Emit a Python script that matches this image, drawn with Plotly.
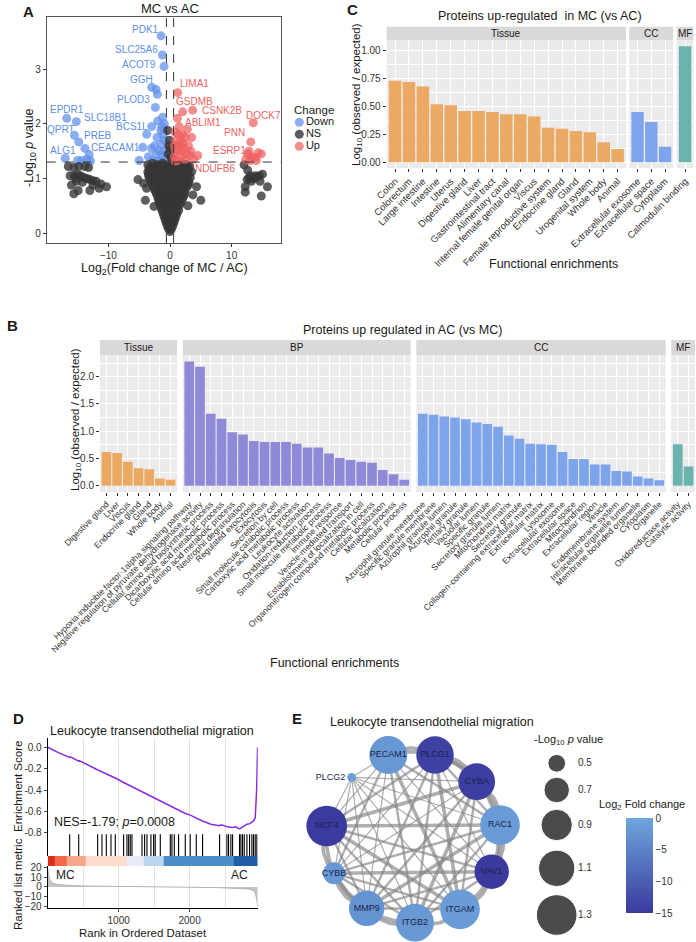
import plotly.graph_objects as go

W, H = 696, 942
FONT = "Liberation Sans, Arial, sans-serif"
INK = "#1a1a1a"

# ---------------- A: volcano, MC vs AC ----------------
# (log2 fold change, -log10 p)
down_pts = [
    (-1.46, 3.61), (-1.24, 3.26), (-0.97, 3.05), (-2.97, 2.67), (-2.27, 2.63),
    (-2.05, 2.54), (-2.38, 2.30), (-1.20, 2.12), (-2.00, 2.05), (-0.90, 2.00),
    (-1.30, 1.95), (-2.97, 1.95), (-1.50, 1.88), (-3.78, 1.81), (-1.10, 1.80),
    (-2.10, 1.75), (-0.90, 1.70), (-1.40, 1.62), (-2.50, 1.60), (-4.43, 1.57),
    (-3.00, 1.55), (-1.70, 1.50), (-1.00, 1.50), (-2.20, 1.45), (-3.50, 1.40),
    (-1.30, 1.38), (-0.80, 1.35), (-2.80, 1.33), (-5.00, 1.33), (-1.80, 1.32),
    (-16.75, 2.10), (-15.20, 2.04), (-15.50, 1.79), (-14.80, 1.67), (-13.80, 1.55),
    (-13.10, 1.44), (-17.00, 1.37), (-15.00, 1.33), (-14.30, 1.33), (-13.50, 1.35),
    (-12.90, 1.32),
]
up_pts = [
    (1.24, 2.57), (2.05, 2.22), (3.67, 2.25), (1.20, 2.10), (1.50, 1.95),
    (0.80, 1.85), (2.00, 1.80), (2.50, 1.75), (1.00, 1.70), (1.70, 1.68),
    (3.00, 1.60), (2.20, 1.55), (1.30, 1.52), (0.90, 1.50), (3.40, 1.50),
    (4.50, 1.42), (2.70, 1.45), (1.80, 1.40), (0.70, 1.40), (2.40, 1.35),
    (1.20, 1.33), (3.80, 1.35), (0.80, 1.32), (1.60, 1.60), (2.80, 1.90),
    (3.50, 1.75), (1.10, 1.60), (2.10, 1.65), (1.40, 1.80), (0.70, 1.60),
    (1.90, 1.50), (3.20, 1.42),
    (13.5, 2.02), (13.1, 1.67), (12.6, 1.45), (13.2, 1.40), (13.8, 1.38),
    (14.3, 1.47), (14.8, 1.45), (12.3, 1.35), (13.0, 1.33), (14.0, 1.33), (12.8, 1.50),
]
ns_pts = [
    (0.0, 0.03), (-0.2, 0.07), (0.2, 0.07),
    (-0.4, 0.12), (0.0, 0.12), (0.4, 0.12),
    (-0.55, 0.17), (-0.2, 0.17), (0.2, 0.17), (0.55, 0.17),
    (-0.7, 0.22), (-0.2, 0.22), (0.2, 0.22), (0.7, 0.22),
    (-0.85, 0.27), (-0.45, 0.27), (0.0, 0.27), (0.45, 0.27), (0.85, 0.27),
    (-1.0, 0.32), (-0.5, 0.32), (0.0, 0.32), (0.5, 0.32), (1.0, 0.32),
    (-1.15, 0.37), (-0.6, 0.37), (0.0, 0.37), (0.6, 0.37), (1.15, 0.37),
    (-1.3, 0.42), (-0.7, 0.42), (-0.1, 0.42), (0.4, 0.42), (0.9, 0.42), (1.4, 0.42),
    (-1.45, 0.47), (-0.8, 0.47), (-0.2, 0.47), (0.6, 0.47), (1.2, 0.47),
    (-1.6, 0.52), (-0.9, 0.52), (-0.3, 0.52), (0.3, 0.52), (0.9, 0.52), (1.6, 0.52),
    (-1.75, 0.57), (-1.1, 0.57), (-0.4, 0.57), (0.4, 0.57), (1.0, 0.57), (1.8, 0.57),
    (-1.9, 0.62), (-1.2, 0.62), (-0.5, 0.62), (0.1, 0.62), (0.7, 0.62), (1.3, 0.62), (2.0, 0.62),
    (-2.0, 0.67), (-1.3, 0.67), (-0.6, 0.67), (0.0, 0.67), (0.9, 0.67), (1.7, 0.67), (2.2, 0.67),
    (-2.2, 0.72), (-1.5, 0.72), (-0.8, 0.72), (-0.1, 0.72), (0.6, 0.72), (1.3, 0.72), (2.0, 0.72), (2.4, 0.72),
    (-2.4, 0.77), (-1.6, 0.77), (-0.6, 0.77), (0.2, 0.77), (0.9, 0.77), (1.6, 0.77), (2.3, 0.77),
    (-2.6, 0.82), (-1.8, 0.82), (-1.0, 0.82), (-0.3, 0.82), (0.4, 0.82), (1.1, 0.82), (1.8, 0.82), (2.6, 0.82),
    (-2.8, 0.87), (-2.0, 0.87), (-1.2, 0.87), (-0.4, 0.87), (0.5, 0.87), (1.4, 0.87), (2.2, 0.87), (2.9, 0.87),
    (-3.0, 0.92), (-2.2, 0.92), (-1.4, 0.92), (-0.6, 0.92), (0.2, 0.92), (1.0, 0.92), (1.8, 0.92), (2.6, 0.92), (3.1, 0.92),
    (-3.2, 0.97), (-2.3, 0.97), (-1.3, 0.97), (-0.3, 0.97), (0.5, 0.97), (1.3, 0.97), (2.2, 0.97), (3.0, 0.97),
    (-3.4, 1.02), (-2.6, 1.02), (-1.7, 1.02), (-0.8, 1.02), (0.0, 1.02), (0.8, 1.02), (1.7, 1.02), (2.6, 1.02), (3.3, 1.02),
    (-3.5, 1.07), (-2.2, 1.07), (-1.2, 1.07), (-0.4, 1.07), (0.4, 1.07), (1.3, 1.07), (2.2, 1.07), (3.0, 1.07),
    (-3.6, 1.12), (-2.7, 1.12), (-1.8, 1.12), (-0.9, 1.12), (0.0, 1.12), (0.9, 1.12), (1.8, 1.12), (2.7, 1.12), (3.5, 1.12),
    (-3.4, 1.17), (-2.2, 1.17), (-1.2, 1.17), (-0.4, 1.17), (0.4, 1.17), (1.2, 1.17), (2.1, 1.17), (3.0, 1.17),
    (-3.2, 1.22), (-2.4, 1.22), (-1.6, 1.22), (-0.8, 1.22), (0.0, 1.22), (0.8, 1.22), (1.6, 1.22), (2.4, 1.22), (3.2, 1.22),
    (-3.6, 1.25), (-2.0, 1.25), (-0.4, 1.25), (1.2, 1.25), (2.8, 1.25),
    (-2.8, 1.28), (-1.2, 1.28), (0.4, 1.28), (2.0, 1.28),
    (-0.30, 1.45), (0.20, 1.55), (-0.10, 1.70), (-0.35, 1.88), (0.30, 1.36), (-0.20, 1.60), (0.10, 1.40),
    (-4.3, 0.91), (-3.8, 0.82), (-2.6, 0.49), (-4.0, 0.60), (5.0, 0.60), (3.7, 0.70), (2.9, 0.50),
    (4.3, 0.85), (-5.2, 0.98),
    (-16.5, 1.22), (-15.6, 1.20), (-14.8, 1.22), (-13.8, 1.22), (-13.2, 1.20), (-16.2, 1.05),
    (-15.5, 1.05), (-15.0, 1.07), (-14.5, 1.05), (-14.0, 1.02), (-13.5, 1.00), (-13.0, 0.98),
    (-12.5, 0.96), (-12.0, 0.95), (-11.2, 0.90), (-10.3, 0.85), (-16.0, 0.88), (-15.2, 0.95),
    (-14.2, 0.93), (-13.0, 0.78), (-15.6, 0.72), (-14.9, 0.78), (-11.5, 0.82), (-12.5, 0.88), (-15.3, 1.00),
    (12.0, 1.25), (12.6, 1.15), (13.0, 1.05), (13.5, 1.00), (14.0, 1.02), (14.5, 1.05), (15.0, 1.08),
    (13.2, 0.95), (12.5, 0.98), (12.2, 0.85), (14.6, 0.95), (15.8, 0.85), (12.2, 0.75), (14.8, 0.68),
    (13.8, 1.05), (12.8, 1.00),
]
# gene, label x, label y, group
gene_labels = [
    ("PDK1", -4.05, 3.73, "Down"), ("SLC25A6", -5.4, 3.36, "Down"), ("ACOT9", -5.0, 3.09, "Down"),
    ("GGH", -4.6, 2.82, "Down"), ("PLOD3", -5.95, 2.45, "Down"), ("EPDR1", -16.75, 2.27, "Down"),
    ("SLC18B1", -10.5, 2.12, "Down"), ("QPRT", -17.7, 1.90, "Down"), ("BCS1L", -6.2, 1.95, "Down"),
    ("PREB", -11.7, 1.78, "Down"), ("ALG1", -17.3, 1.52, "Down"), ("CEACAM1", -8.9, 1.57, "Down"),
    ("LIMA1", 4.05, 2.73, "Up"), ("GSDMB", 3.94, 2.40, "Up"), ("CSNK2B", 8.4, 2.24, "Up"),
    ("ABLIM1", 5.4, 2.03, "Up"), ("DOCK7", 15.1, 2.16, "Up"), ("PNN", 10.5, 1.84, "Up"),
    ("ESRP1", 9.7, 1.52, "Up"), ("NDUFB6", 7.3, 1.19, "Up"),
]
groups = ["Down", "NS", "Up"]
fc_cut = 0.585   # log2(1.5)
p_cut = 1.301    # -log10(0.05)

# ---------------- C: up in MC ----------------
c_tissue_terms = ["Colon", "Colorectum", "Large intestine", "Intestine", "Uterus", "Digestive gland",
                  "Liver", "Gastrointestinal tract", "Alimentary canal", "Internal female genital organ",
                  "Viscus", "Female reproductive system", "Endocrine gland", "Gland", "Urogenital system",
                  "Whole body", "Animal"]
c_tissue_vals = [0.73, 0.72, 0.68, 0.52, 0.51, 0.46, 0.46, 0.45, 0.43, 0.43, 0.41, 0.31, 0.30, 0.28,
                 0.27, 0.18, 0.12]
c_cc_terms = ["Extracellular exosome", "Extracellular space", "Cytoplasm"]
c_cc_vals = [0.45, 0.36, 0.14]
c_mf_terms = ["Calmodulin binding"]
c_mf_vals = [1.04]

# ---------------- B: up in AC ----------------
b_tissue_terms = ["Digestive gland", "Liver", "Viscus", "Endocrine gland", "Gland", "Whole body", "Animal"]
b_tissue_vals = [0.62, 0.60, 0.44, 0.32, 0.30, 0.13, 0.11]
b_bp_terms = ["Hypoxia-inducible factor-1alpha signaling pathway",
              "Negative regulation of pyruvate dehydrogenase activity",
              "Cellular amino acid biosynthetic process", "Dicarboxylic acid metabolic process",
              "Cellular amino acid metabolic process", "Neutrophil degranulation", "Regulated exocytosis",
              "Exocytosis", "Secretion by cell", "Small molecule catabolic process",
              "Carboxylic acid metabolic process", "Leukocyte activation", "Oxidation-reduction process",
              "Small molecule metabolic process", "Immune response", "Vesicle-mediated transport",
              "Establishment of localization in cell", "Organonitrogen compound metabolic process",
              "Cellular localization", "Metabolic process", "Cellular process"]
b_bp_vals = [2.28, 2.18, 1.32, 1.23, 0.98, 0.94, 0.82, 0.80, 0.80, 0.80, 0.77, 0.70, 0.70, 0.59,
             0.51, 0.47, 0.44, 0.42, 0.29, 0.21, 0.11]
b_cc_terms = ["Azurophil granule membrane", "Specific granule membrane", "Azurophil granule lumen",
              "Azurophil granule", "Tertiary granule", "Vacuolar lumen", "Specific granule",
              "Secretory granule lumen", "Mitochondrial matrix", "Secretory granule",
              "Collagen-containing extracellular matrix", "Extracellular matrix", "Lysosome",
              "Extracellular exosome", "Extracellular space", "Mitochondrion", "Extracellular region",
              "Vesicle", "Endomembrane system", "Intracellular organelle lumen",
              "Membrane-bounded organelle", "Cytoplasm", "Organelle"]
b_cc_vals = [1.32, 1.30, 1.27, 1.25, 1.22, 1.16, 1.13, 1.08, 0.92, 0.86, 0.77, 0.76, 0.75, 0.62,
             0.49, 0.49, 0.39, 0.39, 0.27, 0.26, 0.17, 0.13, 0.10]
b_mf_terms = ["Oxidoreductase activity", "Catalytic activity"]
b_mf_vals = [0.76, 0.35]

# ---------------- D: GSEA ----------------
n_genes = 2960
es_rank = [1, 150, 310, 320, 437, 445, 700, 770, 830, 900, 960, 1070, 1190, 1330, 1400, 1520, 1590,
           1730, 1850, 1940, 2010, 2100, 2180, 2300, 2420, 2450, 2530, 2610, 2650, 2705, 2730, 2770,
           2810, 2850, 2880, 2900, 2925, 2935, 2945, 2950, 2958]
es_score = [0.0, -0.05, -0.095, -0.09, -0.13, -0.125, -0.21, -0.23, -0.25, -0.27, -0.29, -0.33, -0.37,
            -0.42, -0.44, -0.48, -0.50, -0.55, -0.59, -0.62, -0.635, -0.665, -0.69, -0.72, -0.735,
            -0.725, -0.745, -0.75, -0.745, -0.765, -0.755, -0.735, -0.72, -0.715, -0.70, -0.69, -0.66,
            -0.55, -0.40, -0.25, 0.0]
hit_rank = [310, 437, 704, 765, 826, 892, 953, 1070, 1117, 1141, 1164, 1188, 1329, 1366, 1399, 1455,
            1493, 1516, 1587, 1728, 1751, 1784, 1845, 1939, 2009, 2094, 2183, 2423, 2526, 2549, 2582,
            2606, 2704, 2723, 2746, 2770, 2808, 2845, 2878, 2901, 2925, 2948]
metric_rank = [1, 8, 20, 40, 70, 120, 200, 300, 500, 800, 1200, 1600, 2000, 2400, 2700, 2820, 2880,
               2910, 2930, 2945, 2955, 2960]
metric_val = [19, 14, 9, 6, 4, 2.8, 2.0, 1.5, 1.0, 0.6, 0.3, 0.0, -0.3, -0.7, -1.2, -2.0, -3.0, -4.5,
              -7, -11, -16, -20]
band_edges = [0, 100, 270, 530, 1120, 1350, 1640, 2620, 2960]
band_level = [0, 1, 2, 3, 4, 5, 6, 7]
band_colors = ["#D6301F", "#F2694A", "#F4A88A", "#FCDCCB", "#E9ECF7", "#BCD5EE", "#4A8FC8", "#1F5EA6"]

# ---------------- E: network ----------------
node_names = ["PECAM1", "PLCG1", "CYBA", "RAC1", "VAV1", "ITGAM", "ITGB2", "MMP9", "CYBB", "NCF4", "PLCG2"]
node_x = [-24.7, 22.0, 63.7, 87.0, 78.7, 47.0, 2.0, -46.3, -79.0, -86.3, -61.3]
node_y = [85.0, 85.0, 58.3, 15.0, -31.7, -69.3, -82.7, -68.3, -33.3, 14.0, 62.7]
node_logp = [1.17, 1.15, 1.12, 1.25, 1.02, 1.25, 1.17, 1.06, 0.60, 1.30, 0.36]
node_fc = [-2.0, -14.0, -14.5, -1.5, -15.0, -1.2, -1.8, -2.5, -2.0, -14.8, -1.0]
straight_edges = [(0, 3, 2), (0, 4, 1), (0, 5, 3), (0, 6, 2), (0, 7, 1), (0, 8, 2), (0, 9, 1),
                  (1, 3, 2), (1, 4, 1), (1, 5, 3), (1, 6, 2), (1, 7, 2), (1, 8, 1), (1, 9, 2),
                  (2, 5, 2), (2, 6, 3), (2, 7, 2), (2, 8, 1), (2, 9, 3), (2, 10, 1),
                  (3, 6, 2), (3, 7, 3), (3, 8, 2), (3, 9, 3), (3, 10, 1),
                  (4, 6, 2), (4, 7, 2), (4, 8, 3), (4, 9, 2), (4, 10, 1),
                  (5, 7, 2), (5, 8, 2), (5, 9, 3), (5, 10, 1),
                  (6, 8, 2), (6, 9, 2), (6, 10, 1), (7, 9, 2), (7, 10, 1), (8, 10, 1),
                  (0, 10, 1), (9, 10, 1)]
curved_edges = [(0, 1), (1, 2), (2, 3), (3, 4), (4, 5), (5, 6), (6, 7), (7, 8), (8, 9),
                (0, 2), (3, 5), (2, 4), (6, 8), (9, 7), (1, 3)]
size_legend_vals = [0.5, 0.7, 0.9, 1.1, 1.3]


def xdom(x0, x1):
    return [x0 / W, x1 / W]


def ydom(y0, y1):
    return [1 - y1 / H, 1 - y0 / H]


fig = go.Figure()
layout = {}
shapes, annots = [], []


def text(x, y, s, size=11, angle=0, color=INK, xanchor="center"):
    annots.append(dict(x=x / W, y=1 - y / H, xref="paper", yref="paper", text=s, showarrow=False,
                       textangle=angle, xanchor=xanchor, yanchor="middle",
                       font=dict(size=size, family=FONT, color=color)))


# ---- panel A ----
cols = {"Down": "#5E8FEA", "NS": "#363636", "Up": "#EF5F5F"}
alpha = {"Down": 0.72, "NS": 0.8, "Up": 0.72}
for name, pts in [("Down", down_pts), ("NS", ns_pts), ("Up", up_pts)]:
    fig.add_trace(go.Scatter(x=[p[0] for p in pts], y=[p[1] for p in pts], mode="markers", name=name,
                             marker=dict(size=9, color=cols[name], opacity=alpha[name], line=dict(width=0)),
                             xaxis="x", yaxis="y", showlegend=False))
axA = dict(ticks="outside", ticklen=3, tickcolor="#333", showline=True, mirror=True, linecolor="#555",
           linewidth=1, showgrid=False, zeroline=False, tickfont=dict(size=10, color="#333"),
           automargin=False)
layout["xaxis"] = dict(domain=xdom(46.7, 281), anchor="y", range=[-20, 18], tickvals=[-10, 0, 10], **axA)
layout["yaxis"] = dict(domain=ydom(16.7, 243), anchor="x", range=[-0.18, 3.96], tickvals=[0, 1, 2, 3], **axA)
for v in (-fc_cut, fc_cut):
    shapes.append(dict(type="line", xref="x", yref="y domain", x0=v, x1=v, y0=0, y1=1,
                       line=dict(color="#333", width=1, dash="dash")))
shapes.append(dict(type="line", xref="x domain", yref="y", x0=0, x1=1, y0=p_cut, y1=p_cut,
                   line=dict(color="#333", width=1, dash="dash")))
for g, lx, ly, grp in gene_labels:
    annots.append(dict(x=lx, y=ly, xref="x", yref="y", text=g, showarrow=False,
                       xanchor="center", yanchor="middle",
                       font=dict(size=10, family=FONT, color=cols[grp])))
text(28, 12, "<b>A</b>", 15)
text(170, 9, "MC vs AC", 13)
text(164, 269, "Log<sub>2</sub>(Fold change of MC / AC)", 12.5)
text(30, 148, "-Log<sub>10</sub> <i>p</i> value", 12.5, angle=-90)

# legend of A, drawn in a small pixel-scaled axis
fig.add_trace(go.Scatter(x=[0, 0, 0], y=[0, 1, 2], mode="markers+text", text=groups,
                         textposition="middle right", textfont=dict(size=11, family=FONT, color=INK),
                         marker=dict(size=9, color=[cols[g] for g in groups],
                                     opacity=[alpha[g] for g in groups]),
                         xaxis="x13", yaxis="y13", showlegend=False))
layout["xaxis13"] = dict(domain=xdom(290, 350), anchor="y13", range=[-9.3, 50.7], visible=False,
                         automargin=False)
layout["yaxis13"] = dict(domain=ydom(115, 154), anchor="x13", range=[2.65, -0.6], visible=False,
                         automargin=False)
text(292, 110, "Change", 11.5, xanchor="left")


# ---- facet helper for B and C ----
def facet(n, x0, x1, y0, y1, strip_top, terms, vals, color, yr, yticks, yfmt, yminor, first, tsize, label):
    xa, ya = f"x{n}", f"y{n}"
    fig.add_trace(go.Bar(x=terms, y=vals, width=0.9, marker=dict(color=color, line=dict(width=0)),
                         xaxis=xa, yaxis=ya, showlegend=False))
    layout[f"xaxis{n}"] = dict(domain=xdom(x0, x1), anchor=ya, type="category", categoryorder="array",
                               categoryarray=terms, range=[-0.6, len(terms) - 0.4], tickangle=-45,
                               tickfont=dict(size=tsize, color="#333"), ticks="outside", ticklen=3,
                               tickcolor="#333", showgrid=True, gridcolor="white", gridwidth=1.1,
                               showline=False, zeroline=False, automargin=False)
    layout[f"yaxis{n}"] = dict(domain=ydom(y0, y1), anchor=xa, range=yr, tickvals=yticks,
                               ticktext=[yfmt.format(v) for v in yticks], showticklabels=first,
                               ticks="outside" if first else "", ticklen=3, tickcolor="#333",
                               tickfont=dict(size=10, color="#333"), showgrid=True, gridcolor="white",
                               gridwidth=1.1, zeroline=False, automargin=False,
                               minor=dict(tickvals=yminor, showgrid=True, gridcolor="white", gridwidth=0.5))
    shapes.append(dict(type="rect", xref=f"{xa} domain", yref=f"{ya} domain", x0=0, x1=1, y0=0, y1=1,
                       fillcolor="#EBEBEB", line=dict(width=0), layer="below"))
    sh = (y0 - strip_top) / (y1 - y0)
    shapes.append(dict(type="rect", xref=f"{xa} domain", yref=f"{ya} domain", x0=0, x1=1, y0=1,
                       y1=1 + sh, fillcolor="#D9D9D9", line=dict(width=0), layer="below"))
    annots.append(dict(xref=f"{xa} domain", yref=f"{ya} domain", x=0.5, y=1 + sh / 2, text=label,
                       showarrow=False, xanchor="center", yanchor="middle",
                       font=dict(size=10, family=FONT, color=INK)))


ORANGE, PURPLE, BLUE, TEAL = "#EBA963", "#8F8AD8", "#7EA5EC", "#6BB4AD"

# ---- panel C ----
c_yr = [-0.052, 1.092]
c_t = [0, 0.25, 0.5, 0.75, 1.0]
c_m = [0.125, 0.375, 0.625, 0.875]
facet(2, 386.7, 626, 40.4, 168.1, 26.7, c_tissue_terms, c_tissue_vals, ORANGE, c_yr, c_t, "{:.2f}", c_m, True, 9.5, "Tissue")
facet(3, 629.3, 673.3, 40.4, 168.1, 26.7, c_cc_terms, c_cc_vals, BLUE, c_yr, c_t, "{:.2f}", c_m, False, 9.5, "CC")
facet(4, 676.7, 693.4, 40.4, 168.1, 26.7, c_mf_terms, c_mf_vals, TEAL, c_yr, c_t, "{:.2f}", c_m, False, 9.5, "MF")
text(352, 10, "<b>C</b>", 15)
text(540, 16, "Proteins up-regulated  in MC (vs AC)", 12.5)
text(553, 264, "Functional enrichments", 12.5)
text(357, 95, "Log<sub>10</sub> (observed / expected)", 11.5, angle=-90)

# ---- panel B ----
b_yr = [-0.114, 2.394]
b_t = [0, 0.5, 1.0, 1.5, 2.0]
b_m = [0.25, 0.75, 1.25, 1.75, 2.25]
facet(5, 100, 177, 355.2, 491.9, 340, b_tissue_terms, b_tissue_vals, ORANGE, b_yr, b_t, "{:.1f}", b_m, True, 8.6, "Tissue")
facet(6, 182.8, 410.7, 355.2, 491.9, 340, b_bp_terms, b_bp_vals, PURPLE, b_yr, b_t, "{:.1f}", b_m, False, 8.6, "BP")
facet(7, 416.3, 665.7, 355.2, 491.9, 340, b_cc_terms, b_cc_vals, BLUE, b_yr, b_t, "{:.1f}", b_m, False, 8.6, "CC")
facet(8, 671.3, 695, 355.2, 491.9, 340, b_mf_terms, b_mf_vals, TEAL, b_yr, b_t, "{:.1f}", b_m, False, 8.6, "MF")
text(12, 326, "<b>B</b>", 15)
text(402, 330, "Proteins up regulated in AC (vs MC)", 12.5)
text(334, 663, "Functional enrichments", 12.5)
text(76, 420, "Log<sub>10</sub> (observed / expected)", 11.5, angle=-90)

# ---- panel D ----
fig.add_trace(go.Scatter(x=es_rank, y=es_score, mode="lines", line=dict(color="#8A2BE2", width=1.5),
                         xaxis="x9", yaxis="y9", showlegend=False))
hx, hy = [], []
for r in hit_rank:
    hx += [r, r, None]
    hy += [-0.815, -1.018, None]
fig.add_trace(go.Scatter(x=hx, y=hy, mode="lines", line=dict(color="black", width=1.1),
                         xaxis="x9", yaxis="y9", showlegend=False))
scale = []
for i, c in enumerate(band_colors):
    scale += [[i / len(band_colors), c], [(i + 1) / len(band_colors), c]]
fig.add_trace(go.Heatmap(z=[band_level], x=band_edges, y=[0, 1], colorscale=scale, zmin=-0.5,
                         zmax=len(band_colors) - 0.5, showscale=False, xaxis="x10", yaxis="y10"))
fig.add_trace(go.Scatter(x=metric_rank, y=metric_val, mode="lines", fill="tozeroy",
                         line=dict(color="#B5B5B5", width=1), fillcolor="#C4C4C4",
                         xaxis="x11", yaxis="y11", showlegend=False))
dx = xdom(47.7, 257.7)
layout["xaxis9"] = dict(domain=dx, anchor="y9", range=[0, n_genes], tickvals=[500, 1000, 1500, 2000, 2500],
                        showticklabels=False, ticks="", showgrid=True, gridcolor="#E3E3E3",
                        zeroline=False, showline=False, automargin=False)
layout["yaxis9"] = dict(domain=ydom(738, 856), anchor="x9", range=[-1.018, 0.087],
                        tickvals=[0, -0.2, -0.4, -0.6, -0.8], ticktext=["0.0", "-0.2", "-0.4", "-0.6", "-0.8"],
                        showline=True, linecolor="black", linewidth=1, ticks="outside", ticklen=3,
                        tickfont=dict(size=10, color="#333"), showgrid=False, zeroline=False,
                        automargin=False)
layout["xaxis10"] = dict(domain=dx, anchor="y10", range=[0, n_genes], visible=False, automargin=False)
layout["yaxis10"] = dict(domain=ydom(856, 866), anchor="x10", range=[0, 1], visible=False, automargin=False)
layout["xaxis11"] = dict(domain=dx, anchor="y11", range=[0, n_genes], tickvals=[1000, 2000],
                         showline=True, linecolor="black", linewidth=1, ticks="outside", ticklen=3,
                         tickfont=dict(size=10, color="#333"), showgrid=True, gridcolor="#E3E3E3",
                         zeroline=False, automargin=False,
                         minor=dict(tickvals=[500, 1500, 2500], showgrid=True, gridcolor="#E3E3E3"))
layout["yaxis11"] = dict(domain=ydom(866, 908.3), anchor="x11", range=[-21.7, 21.3],
                         tickvals=[20, 10, 0, -10, -20], showline=True, linecolor="black", linewidth=1,
                         ticks="outside", ticklen=3, tickfont=dict(size=10, color="#333"),
                         showgrid=False, zeroline=False, automargin=False)
annots.append(dict(x=56, y=-0.70, xref="x9", yref="y9", text="NES=-1.79; <i>p</i>=0.0008",
                   showarrow=False, xanchor="left", yanchor="middle",
                   font=dict(size=12.5, family=FONT, color=INK)))
annots.append(dict(x=244, y=12, xref="x11", yref="y11", text="MC", showarrow=False,
                   xanchor="center", yanchor="middle", font=dict(size=12, family=FONT, color=INK)))
annots.append(dict(x=2700, y=12, xref="x11", yref="y11", text="AC", showarrow=False,
                   xanchor="center", yanchor="middle", font=dict(size=12, family=FONT, color=INK)))
text(18, 718, "<b>D</b>", 15)
text(152, 731, "Leukocyte transendothelial migration", 12.5)
text(143, 933, "Rank in Ordered Dataset", 11.5)
text(18, 787, "Enrichment Score", 11.5, angle=-90)
text(18, 884, "Ranked list metric", 11.5, angle=-90)


# ---- panel E ----
def node_size(v):
    return max(313 + 1680 * (v - 0.5), 64) ** 0.5


ex, ey = {}, {}
for i, j, w in straight_edges:
    ex.setdefault(w, []).extend([node_x[i], node_x[j], None])
    ey.setdefault(w, []).extend([node_y[i], node_y[j], None])
for i, j in curved_edges:
    mx, my = (node_x[i] + node_x[j]) / 2, (node_y[i] + node_y[j]) / 2
    d = ((node_x[i] - node_x[j]) ** 2 + (node_y[i] - node_y[j]) ** 2) ** 0.5
    nrm = (mx ** 2 + my ** 2) ** 0.5
    cx, cy = mx + 0.3 * d * mx / nrm, my + 0.3 * d * my / nrm
    for k in range(21):
        t = k / 20
        ex.setdefault(3, []).append((1 - t) ** 2 * node_x[i] + 2 * t * (1 - t) * cx + t ** 2 * node_x[j])
        ey.setdefault(3, []).append((1 - t) ** 2 * node_y[i] + 2 * t * (1 - t) * cy + t ** 2 * node_y[j])
    ex[3].append(None)
    ey[3].append(None)
for w in sorted(ex):
    fig.add_trace(go.Scatter(x=ex[w], y=ey[w], mode="lines", xaxis="x12", yaxis="y12", showlegend=False,
                             line=dict(color="rgba(130,130,130,0.65)", width=1.2 * w)))
fig.add_trace(go.Scatter(
    x=node_x, y=node_y, mode="markers+text", text=node_names,
    textposition=["middle center"] * 10 + ["middle left"],
    textfont=dict(size=9, family=FONT, color="#1B1F4B"),
    marker=dict(size=[node_size(v) for v in node_logp], color=node_fc, cmin=-15, cmax=0,
                colorscale=[[0, "#3A3A9E"], [1, "#6EA6DC"]], line=dict(width=0), opacity=1,
                showscale=True,
                colorbar=dict(x=626 / W, xanchor="left", y=1 - 818.3 / H, yanchor="top", len=95 / H,
                              thickness=27, tickvals=[0, -5, -10, -15], ticks="", outlinewidth=0,
                              tickfont=dict(size=10, family=FONT, color="#333"), xpad=0, ypad=0)),
    xaxis="x12", yaxis="y12", showlegend=False))
leg_y = [76.7, 50, 15, -28.3, -75]
fig.add_trace(go.Scatter(x=[143.7] * len(size_legend_vals), y=leg_y, mode="markers",
                         marker=dict(size=[node_size(v) for v in size_legend_vals], color="black"),
                         xaxis="x12", yaxis="y12", showlegend=False))
fig.add_trace(go.Scatter(x=[165] * len(size_legend_vals), y=leg_y, mode="text",
                         text=[f"{v:.1f}" for v in size_legend_vals], textposition="middle right",
                         textfont=dict(size=10, family=FONT, color="#333"),
                         xaxis="x12", yaxis="y12", showlegend=False))
layout["xaxis12"] = dict(domain=xdom(300, 696), anchor="y12", range=[-113, 283], visible=False,
                         automargin=False)
layout["yaxis12"] = dict(domain=ydom(730, 942), anchor="x12", range=[-102, 110], visible=False,
                         automargin=False)
text(297, 718, "<b>E</b>", 15)
text(432, 722, "Leukocyte transendothelial migration", 12.5)
text(568, 740, "-Log<sub>10</sub> <i>p</i> value", 11)
text(642, 805, "Log<sub>2</sub> Fold change", 11)

fig.update_layout(
    template="none",
    width=W, height=H, margin=dict(l=0, r=0, t=0, b=0, autoexpand=False),
    paper_bgcolor="white", plot_bgcolor="rgba(0,0,0,0)",
    font=dict(family=FONT, color=INK, size=10), showlegend=False,
    shapes=shapes, annotations=annots, **layout)

fig.write_html("out.html", config={"displayModeBar": False},
               post_script="document.body.style.margin='0px';")
